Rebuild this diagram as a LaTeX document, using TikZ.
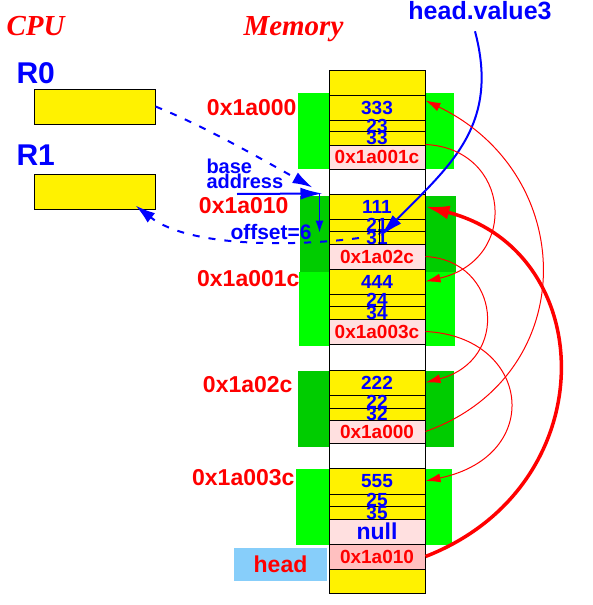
\documentclass[tikz,border=0pt]{standalone}
\usepackage{fontspec}
\setmainfont{Liberation Serif}
\setsansfont{Liberation Sans}
\usepackage{tikz}
\usetikzlibrary{arrows.meta}
\definecolor{lgreen}{RGB}{0,255,0}
\definecolor{dgreen}{RGB}{0,204,0}
\definecolor{ptrpink}{RGB}{255,224,224}
\definecolor{headpink}{RGB}{255,192,192}
\definecolor{headblue}{RGB}{135,206,250}

\begin{document}
\begin{tikzpicture}[x=1pt, y=-1pt, line width=1pt,
  cell/.style={draw, fill=yellow, minimum width=96pt, inner sep=0pt},
  ptr/.style={cell, fill=ptrpink},
  num/.style={text=blue, inner sep=0pt, font=\sffamily\bfseries\fontsize{19}{19}\selectfont},
  adr/.style={text=red, inner sep=0pt, font=\sffamily\bfseries\fontsize{19}{19}\selectfont},
  side/.style={text=red, inner sep=0pt, anchor=base east, font=\sffamily\bfseries\fontsize{23}{23}\selectfont},
  title/.style={text=red, inner sep=0pt, anchor=base west, font=\rmfamily\bfseries\itshape\fontsize{29}{29}\selectfont},
  reg/.style={text=blue, inner sep=0pt, anchor=base west, font=\sffamily\bfseries\fontsize{30}{30}\selectfont},
  note/.style={text=blue, inner sep=0pt, font=\sffamily\bfseries\fontsize{20}{15}\selectfont},
  redthin/.style={red, line width=1pt, -{Latex[length=15pt,width=9pt]}},
  redthick/.style={red, line width=3.5pt, -{Latex[length=24pt,width=14pt]}},
  bluedash/.style={blue, line width=2pt, dash pattern=on 7pt off 9pt, -{Latex[length=20pt,width=12pt]}}]
\useasboundingbox (0,0) rectangle (592,605);
% green blocks behind the list nodes
\fill[lgreen] (298,93) rectangle (454,169);
\fill[dgreen] (300,196) rectangle (456,272);
\fill[lgreen] (299,272) rectangle (455,346);
\fill[dgreen] (298,371) rectangle (454,447);
\fill[lgreen] (296,469) rectangle (452,545);
% memory column
\begin{scope}
\node[cell, minimum height=25pt] (m0) at (377,82.5) {}; %%
\node[cell, num, minimum height=25pt] (a1) at (377,107.5) {333}; %%
\node[cell, minimum height=11pt, label={[num]center:23}] (a2) at (377,125.5) {}; %%
\node[cell, minimum height=14pt, label={[num]center:33}] (a3) at (377,138) {}; %%
\node[ptr, adr, minimum height=24pt] (a4) at (377,157) {0x1a001c}; %%
\node[cell, fill=white, minimum height=25pt] (g1) at (377,181.5) {}; %%
\node[cell, num, minimum height=25pt] (b1) at (377,206.5) {111}; %%
\node[cell, minimum height=12pt, label={[num]center:21}] (b2) at (377,225) {}; %%
\node[cell, minimum height=13pt, label={[num]center:31}] (b3) at (377,237.5) {}; %%
\node[ptr, adr, minimum height=25pt] (b4) at (377,256.5) {0x1a02c}; %%
\node[cell, num, minimum height=25pt] (c1) at (377,281.5) {444}; %%
\node[cell, minimum height=12pt, label={[num]center:24}] (c2) at (377,300) {}; %%
\node[cell, minimum height=13pt, label={[num]center:34}] (c3) at (377,312.5) {}; %%
\node[ptr, adr, minimum height=25pt] (c4) at (377,331.5) {0x1a003c}; %%
\node[cell, fill=white, minimum height=26pt] (g2) at (377,357) {}; %%
\node[cell, num, minimum height=25pt] (d1) at (377,382.5) {222}; %%
\node[cell, minimum height=13pt, label={[num]center:22}] (d2) at (377,401.5) {}; %%
\node[cell, minimum height=12pt, label={[num]center:32}] (d3) at (377,414) {}; %%
\node[ptr, adr, minimum height=23pt] (d4) at (377,431.5) {0x1a000}; %%
\node[cell, fill=white, minimum height=25pt] (g3) at (377,455.5) {}; %%
\node[cell, num, minimum height=26pt] (e1) at (377,481) {555}; %%
\node[cell, minimum height=12pt, label={[num]center:25}] (e2) at (377,500) {}; %%
\node[cell, minimum height=13pt, label={[num]center:35}] (e3) at (377,512.5) {}; %%
\node[ptr, num, minimum height=25pt, font=\sffamily\bfseries\fontsize{23}{23}\selectfont] (e4) at (377,531.5) {null}; %%
\node[ptr, adr, fill=headpink, minimum height=25pt] (hd) at (377,556.5) {0x1a010}; %%
\node[cell, minimum height=24pt] (m1) at (377,581) {};
\end{scope}
\draw ([xshift=2pt]b2.north) -- ([xshift=2pt]b3.south);
% addresses
\node[side] (l1) at (297,115) {0x1a000}; %%
\node[side] (l2) at (289,213.5) {0x1a010}; %%
\node[side] (l3) at (300,286) {0x1a001c}; %%
\node[side] (l4) at (293,392) {0x1a02c}; %%
\node[side] (l5) at (295,485) {0x1a003c}; %%
\node[fill=headblue, minimum width=93pt, minimum height=33pt, inner sep=0pt, text=red, font=\sffamily\bfseries\fontsize{23}{23}\selectfont] (headbox) at (280.5,564.5) {head};
% CPU side
\node[title] (cpu) at (6,35) {CPU}; %%
\node[title] (mem) at (243,35) {Memory}; %%
\node[reg] (r0lab) at (16,83) {R0}; %%
\node[reg] (r1lab) at (16,165) {R1}; %%
\node[draw, fill=yellow, minimum width=121pt, minimum height=35pt, inner sep=0pt] (R0) at (94.5,106.5) {}; %%
\node[draw, fill=yellow, minimum width=121pt, minimum height=35pt, inner sep=0pt] (R1) at (94.5,191.5) {};
\node[note, anchor=north west, align=left] (basetxt) at (206,159) {base\\address}; %%
\node[note, anchor=base west, font=\sffamily\bfseries\fontsize{21}{21}\selectfont] (offtxt) at (230,239) {offset=6}; %%
\node[anchor=base, text=blue, inner sep=0pt, font=\sffamily\bfseries\fontsize{25}{25}\selectfont] (hv) at (480,19.5) {head.value3};
\coordinate (basept) at (237,194);
\coordinate (offpt) at (359,238);
% blue arrows
\draw[bluedash] (R0.east) .. controls +(50,20) and +(-45,-25) .. ([shift={(-16,-6)}]b1.north west);
\draw[blue, line width=2pt, -{Latex[length=22pt,width=12pt]}] (basept) -- ([shift={(-6,0)}]b1.north west);
\draw[blue, line width=1pt, -{Latex[length=12pt,width=8pt]}] ([shift={(-9,0)}]b1.north west) -- ([shift={(-9,2)}]b3.north west);
\draw[bluedash] (offpt) .. controls +(-59,8) and +(55,43) .. ([shift={(-20,-4)}]R1.south east);
\draw[blue, line width=2pt, -{Latex[length=24pt,width=12pt]}] ([shift={(-5,11)}]hv.south) .. controls +(25,94) and +(70,-71) .. ([shift={(3,-1)}]b3.center);
% next pointers
\draw[redthin] (a4.north east) .. controls +(85,4) and +(95,-22) .. (c1.east);
\draw[redthin] (b4.east) .. controls +(75,4) and +(85,-22) .. (d1.east);
\draw[redthin] (c4.east) .. controls +(105,5) and +(120,-25) .. (e1.east);
\draw[redthin] (d4.east) .. controls +(155,-55) and +(155,75) .. ([shift={(0,-7)}]a1.east);
\draw[redthick] (hd.east) .. controls +(180,-70) and +(175,45) .. (b1.east);
\end{tikzpicture}
\end{document}
